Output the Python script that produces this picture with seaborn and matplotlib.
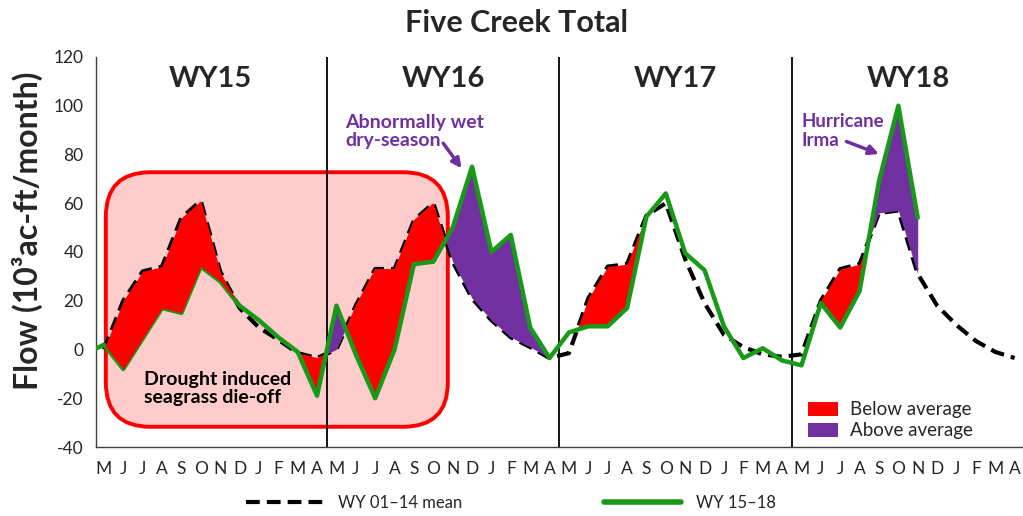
import numpy as np
import pandas as pd
import matplotlib
matplotlib.use('Agg')
import matplotlib.pyplot as plt
from matplotlib.patches import FancyBboxPatch, Patch
from matplotlib.lines import Line2D
import seaborn as sns

# ============================================
# DATA
# ============================================
# month letters on the x axis, May -> April, four water years
MONTHS = ['M', 'J', 'J', 'A', 'S', 'O', 'N', 'D', 'J', 'F', 'M', 'A'] * 4
YEARS = ['WY15', 'WY16', 'WY17', 'WY18']

# WY 01-14 mean flow, May 2014 .. Apr 2018 (10^3 ac-ft/month)
mean_flow = [0, 20, 32, 34, 54, 61, 32, 17, 9, 4, -1.5, -3.5,
             0, 18, 33, 33, 53, 60, 36, 21, 12, 5, 1, -3.5,
             -1.5, 21, 34, 35, 55, 60, 37, 19, 6, 1, -2, -3,
             -2, 20, 33, 35, 56, 57, 31, 18, 10, 3.5, -1, -3.5]

# WY 15-18 observed flow, Apr 2014 .. Nov 2017
wy_flow = [-2,
           2, -8, 4.5, 17, 15, 34, 28, 18, 12, 5, -1, -19,
           18, -2, -20, 0, 35, 36, 50, 75, 40, 47, 9, -3.5,
           7, 9.5, 9.5, 17, 54.5, 64, 39.5, 32.5, 9.5, -3.5, 0.5, -4.5,
           -6.5, 19, 9, 24, 69, 100, 54]

# highlighted anomaly periods (month index ranges)
below_spans = [(0, 7), (10, 18), (24, 29), (37, 40)]
above_spans = [(11, 13), (17, 23), (39, 42)]

RED = '#ff0000'
PURPLE = '#7030a0'
GREEN = '#189a18'

# ============================================
# PLOT
# ============================================
sns.set_style('white')
plt.rcParams['font.family'] = ['Lato', 'DejaVu Sans']
plt.rcParams['axes.unicode_minus'] = False

month_idx = np.arange(-1, 48)
df = pd.DataFrame({'month': month_idx,
                   'mean': [np.nan] + mean_flow,
                   'wy': wy_flow + [np.nan] * (len(month_idx) - len(wy_flow))})
df = df.set_index('month', drop=False)

fig = plt.figure(figsize=(10.23, 5.16), dpi=100)
ax = fig.add_axes([0.0938, 0.1337, 0.905, 0.756])

# drought box
box = FancyBboxPatch((0.1, -31.7), 17.65, 104.4,
                     boxstyle='round,pad=0,rounding_size=2.3', mutation_aspect=7.95,
                     facecolor='#ffcccc', edgecolor=RED, lw=2.8, zorder=0.5)
ax.add_patch(box)

for b in [11.5, 23.5, 35.5]:
    ax.axvline(b, color='black', lw=1.3, zorder=1)

mean_df = df.dropna(subset=['mean'])
wy_df = df.dropna(subset=['wy'])
sns.lineplot(data=mean_df, x='month', y='mean', ax=ax, color='black', lw=3,
             linestyle=(0, (3.3, 1.7)), zorder=2)

for k, (a, b) in enumerate(below_spans):
    s = df.loc[a:b]
    # the first drought patch sits on top of the green line, as in the original
    ax.fill_between(s['month'], s['mean'], s['wy'], where=s['wy'] < s['mean'],
                    interpolate=True, color=RED, lw=0, zorder=5 if k == 0 else 3)
for a, b in above_spans:
    s = df.loc[a:b]
    ax.fill_between(s['month'], s['mean'], s['wy'], where=s['wy'] > s['mean'],
                    interpolate=True, color=PURPLE, lw=0, zorder=3)

sns.lineplot(data=wy_df, x='month', y='wy', ax=ax, color=GREEN, lw=3.2,
             solid_joinstyle='round', zorder=4)

# axes
ax.set_xlim(-0.41, 47.37)
ax.set_ylim(-40, 120)
ax.set_xticks(range(48))
ax.set_xticklabels(MONTHS, fontsize=12.5)
yt = list(range(-40, 121, 20))
ax.set_yticks(yt)
ax.set_yticklabels([str(v) for v in yt], fontsize=12.5)
ax.tick_params(length=0)
ax.tick_params(axis='x', pad=10)
ax.tick_params(axis='y', pad=9)
ax.set_xlabel('')
ax.set_ylabel('')
for side in ['top', 'right']:
    ax.spines[side].set_visible(False)
for side in ['left', 'bottom']:
    ax.spines[side].set_color('#404040')
    ax.spines[side].set_linewidth(1)

# year labels
for i, yr in enumerate(YEARS):
    ax.text(5.5 + 12 * i, 111, yr, ha='center', va='center', fontsize=21, fontweight='bold')

# annotations
ax.text(12.44, 89.5, 'Abnormally wet\ndry-season', ha='left', va='center', fontsize=14,
        fontweight='bold', color=PURPLE, linespacing=1.1)
ax.annotate('', xy=(18.46, 74.3), xytext=(17.51, 84.6),
            arrowprops=dict(arrowstyle='-|>', color=PURPLE, lw=2.5, mutation_scale=14,
                            shrinkA=0, shrinkB=0))
ax.text(36.0, 89.6, 'Hurricane\nIrma', ha='left', va='center', fontsize=13.5,
        fontweight='bold', color=PURPLE, linespacing=1.15)
ax.annotate('', xy=(40.0, 80.2), xytext=(38.32, 85.3),
            arrowprops=dict(arrowstyle='-|>', color=PURPLE, lw=2.5, mutation_scale=14,
                            shrinkA=0, shrinkB=0))
ax.text(2.06, -15.9, 'Drought induced\nseagrass die-off', ha='left', va='center',
        fontsize=14, fontweight='bold', color='black', linespacing=1.05, zorder=6)

# legends
patch_handles = [Patch(facecolor=RED, edgecolor='none', label='Below average'),
                 Patch(facecolor=PURPLE, edgecolor='none', label='Above average')]
ax.legend(handles=patch_handles, loc='lower left', bbox_to_anchor=(0.769, 0.02),
          frameon=False, fontsize=13.5, handlelength=1.6, handleheight=0.75,
          handletextpad=0.65, labelspacing=0.2, borderpad=0, borderaxespad=0)

line_handles = [Line2D([], [], color='black', lw=3, linestyle=(0, (3.3, 1.7))),
                Line2D([], [], color=GREEN, lw=4)]
fig.legend(line_handles, ['WY 01\u201314 mean', 'WY 15\u201318'], loc='center',
           bbox_to_anchor=(0.4995, 0.025), ncol=2, frameon=False, fontsize=12,
           handlelength=4.6, handletextpad=0.9, columnspacing=8.5)

fig.text(0.027, 0.552, 'Flow (10\u00b3ac-ft/month)', rotation=90, ha='center', va='center',
         fontsize=23, fontweight='bold')
fig.text(0.505, 0.955, 'Five Creek Total', ha='center', va='center',
         fontsize=22, fontweight='bold')

fig.savefig('out.png', dpi=100)
